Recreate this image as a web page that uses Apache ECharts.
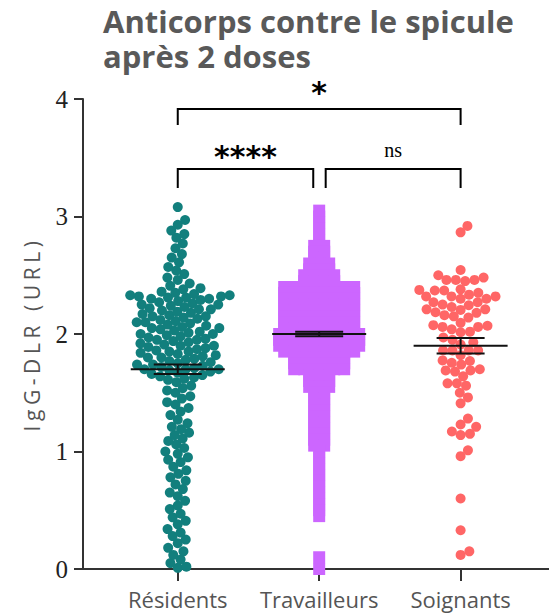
<!DOCTYPE html>
<html>
<head>
<meta charset="utf-8">
<script src="https://cdn.jsdelivr.net/npm/echarts@6/dist/echarts.min.js"></script>
<style>
  html, body { margin: 0; padding: 0; background: #fff; }
  #chart { width: 549px; height: 616px; }
</style>
</head>
<body>
<div id="chart"></div>
<script>
// groups and axis ticks
const categories = ['Résidents', 'Travailleurs', 'Soignants']
const yTicks = [0, 1, 2, 3, 4]
const yName = 'IgG-DLR (URL)'

// IgG-DLR values
const residents = [
  3.08,
  2.97, 2.93,
  2.88, 2.85, 2.82,
  2.77, 2.73,
  2.68, 2.65, 2.61,
  2.57, 2.54, 2.51,
  2.48, 2.46, 2.43, 2.41,
  2.39, 2.38, 2.36, 2.35, 2.34, 2.33, 2.33, 2.32, 2.32, 2.31, 2.31, 2.30, 2.30,
  2.29, 2.28, 2.27, 2.26, 2.25, 2.25, 2.24, 2.23, 2.22, 2.21, 2.21, 2.20,
  2.19, 2.18, 2.17, 2.16, 2.15, 2.15, 2.14, 2.13, 2.12, 2.11, 2.10, 2.10,
  2.09, 2.08, 2.07, 2.06, 2.05, 2.05, 2.04, 2.03, 2.02, 2.01, 2.00, 2.00,
  1.99, 1.98, 1.97, 1.96, 1.95, 1.95, 1.94, 1.93, 1.92, 1.91, 1.90, 1.90,
  1.89, 1.88, 1.87, 1.86, 1.85, 1.85, 1.84, 1.83, 1.82, 1.81, 1.80, 1.80,
  1.79, 1.78, 1.77, 1.76, 1.75, 1.74, 1.74, 1.73, 1.72, 1.71, 1.70, 1.70, 1.70,
  1.69, 1.68, 1.67, 1.66, 1.65, 1.64, 1.63, 1.62, 1.61,
  1.59, 1.56, 1.54, 1.52, 1.50,
  1.47, 1.45, 1.42, 1.40,
  1.37, 1.34, 1.31,
  1.27, 1.24, 1.21,
  1.19, 1.16, 1.14, 1.11,
  1.09, 1.06, 1.03, 1.00,
  0.98, 0.95, 0.93, 0.91,
  0.87, 0.84, 0.81,
  0.78, 0.75, 0.72,
  0.68, 0.65, 0.62,
  0.58, 0.54, 0.51,
  0.47, 0.44, 0.41,
  0.38, 0.34, 0.31,
  0.28, 0.25, 0.22,
  0.18, 0.15, 0.12,
  0.08, 0.05, 0.02, 0.01
]

// travailleurs: squares stacked in rows (level -> number of squares in the row)
const travLevels = [3.05, 3.00, 2.95, 2.90, 2.85, 2.80, 2.75, 2.70, 2.65, 2.60, 2.55, 2.50, 2.45,
  2.40, 2.35, 2.30, 2.25, 2.20, 2.15, 2.10, 2.05, 2.00, 1.95, 1.90, 1.85, 1.80, 1.75, 1.70,
  1.65, 1.60, 1.55, 1.50, 1.45, 1.40, 1.35, 1.30, 1.25, 1.20, 1.15, 1.10, 1.05,
  1.00, 0.95, 0.90, 0.85, 0.80, 0.75, 0.70, 0.65, 0.60, 0.55, 0.50, 0.45, 0.10, 0.00]
const travCounts = [1, 1, 1, 1, 1, 1, 2, 2, 2, 3, 3, 4, 4,
  8, 8, 8, 8, 8, 8, 8, 8, 9, 9, 9, 8, 6, 6, 6,
  3, 3, 3, 2, 2, 2, 2, 2, 2, 2, 2, 2, 2,
  1, 1, 1, 1, 1, 1, 1, 1, 1, 1, 1, 1, 1, 1]

const soignants = [
  2.92, 2.865, 2.545, 2.50, 2.46, 2.46, 2.45, 2.48, 2.46,
  2.38, 2.35, 2.375, 2.335, 2.32, 2.37, 2.37, 2.30, 2.30, 2.32, 2.32,
  2.205, 2.21, 2.27, 2.25, 2.23, 2.27, 2.245, 2.21, 2.185, 2.16, 2.14, 2.18, 2.15,
  2.06, 2.095, 2.075, 2.02, 2.07, 2.06, 2.04, 2.015, 1.97, 1.93, 1.91, 1.95,
  1.86, 1.86, 1.86, 1.86, 1.82, 1.74, 1.77, 1.755, 1.775, 1.70, 1.69, 1.69, 1.68, 1.64,
  1.58, 1.56, 1.58, 1.50, 1.46, 1.41, 1.28, 1.21, 1.23, 1.14, 1.15, 1.17,
  0.96, 1.01, 0.60, 0.33, 0.12, 0.15
]

// mean +/- SEM per group
const means = [1.70, 2.00, 1.90]
const sems = [0.04, 0.02, 0.066]

// significance brackets: [from, to, level, label]
const brackets = [
  [0, 2, 3.915, '*'],
  [0, 0.958, 3.405, '****'],
  [1.046, 2, 3.405, 'ns']
]

const colors = ['#127f7d', '#cc66ff', '#ff6666']

// layout of the plot area
const W = 549, H = 616
const GRID = { left: 83, right: 0, top: 99, bottom: 47 }
const X_MIN = -0.67, X_MAX = 2.625
const xScale = (W - GRID.left - GRID.right) / (X_MAX - X_MIN)
const yScale = (H - GRID.top - GRID.bottom) / 4

// beeswarm: put each point as near the centre as it fits
const swarm = (values, center, d) => {
  const pts = values.map(v => ({ v, y: v * yScale, x: 0 })).sort((a, b) => a.y - b.y)
  const placed = []
  pts.forEach(p => {
    const near = placed.filter(q => Math.abs(p.y - q.y) < d)
    const cands = [0]
    near.forEach(q => {
      const dx = Math.sqrt(d * d - (p.y - q.y) ** 2)
      cands.push(q.x + dx, q.x - dx)
    })
    cands.sort((a, b) => Math.abs(a) - Math.abs(b))
    for (const c of cands) {
      if (near.every(q => (c - q.x) ** 2 + (p.y - q.y) ** 2 >= d * d - 1e-6)) { p.x = c; break }
    }
    placed.push(p)
  })
  return pts.map(p => [center + p.x / xScale, p.v])
}

// rows of squares side by side
const rows = (levels, counts, center, step) => {
  const out = []
  levels.forEach((v, i) => {
    const n = counts[i]
    for (let k = 0; k < n; k++) out.push([center + (k - (n - 1) / 2) * step / xScale, v])
  })
  return out
}

const chart = echarts.init(document.getElementById('chart'), null, { renderer: 'svg' })

const option = {
  animation: false,
  title: {
    text: 'Anticorps contre le spicule\naprès 2 doses',
    left: 98,
    top: -2,
    textStyle: { fontFamily: 'Open Sans', fontWeight: 'bold', fontSize: 31, lineHeight: 35, color: '#595959' }
  },
  grid: GRID,
  xAxis: {
    type: 'value',
    min: X_MIN,
    max: X_MAX,
    splitLine: { show: false },
    axisLine: { lineStyle: { color: '#333', width: 2 } },
    axisTick: { customValues: [0, 1, 2], length: 12, lineStyle: { color: '#333', width: 2 } },
    axisLabel: {
      customValues: [0, 1, 2],
      formatter: v => categories[Math.round(v)],
      fontFamily: 'Open Sans', fontSize: 22, color: '#555', margin: 19
    }
  },
  yAxis: {
    type: 'value',
    min: 0,
    max: 4,
    interval: 1,
    name: yName,
    nameLocation: 'middle',
    nameGap: 41,
    nameTextStyle: { fontFamily: 'Open Sans', fontSize: 21, color: '#555' },
    splitLine: { show: false },
    axisLine: { show: true, onZero: false, lineStyle: { color: '#333', width: 2 } },
    axisTick: { show: true, length: 9, lineStyle: { color: '#333', width: 2 } },
    axisLabel: {
      formatter: v => yTicks.includes(v) ? String(v) : '',
      fontFamily: 'Liberation Serif', fontSize: 25, color: '#222', margin: 15
    }
  },
  series: [
    {
      type: 'scatter',
      symbol: 'circle',
      symbolSize: 10,
      itemStyle: { color: colors[0], opacity: 1 },
      data: swarm(residents, 0, 8.7)
    },
    {
      type: 'scatter',
      symbol: 'rect',
      symbolSize: 12,
      itemStyle: { color: colors[1], opacity: 1 },
      data: rows(travLevels, travCounts, 1, 10)
    },
    {
      type: 'scatter',
      symbol: 'circle',
      symbolSize: 10,
      itemStyle: { color: colors[2], opacity: 1 },
      data: swarm(soignants, 2, 9.4)
    },
    {
      // mean line and SEM whiskers
      type: 'custom',
      clip: false,
      silent: true,
      z: 5,
      data: means.map((m, i) => [i, m, sems[i]]),
      encode: { x: 0, y: 1 },
      renderItem: (params, api) => {
        const i = api.value(0), m = api.value(1), s = api.value(2)
        const c = api.coord([i, m])
        const top = api.coord([i, m + s])[1]
        const bot = api.coord([i, m - s])[1]
        const st = { stroke: '#111', lineWidth: 2 }
        return {
          type: 'group',
          children: [
            { type: 'line', shape: { x1: c[0] - 47, y1: c[1], x2: c[0] + 47, y2: c[1] }, style: st },
            { type: 'line', shape: { x1: c[0], y1: top, x2: c[0], y2: bot }, style: st },
            { type: 'line', shape: { x1: c[0] - 24, y1: top, x2: c[0] + 24, y2: top }, style: st },
            { type: 'line', shape: { x1: c[0] - 24, y1: bot, x2: c[0] + 24, y2: bot }, style: st }
          ]
        }
      }
    },
    {
      // significance brackets
      type: 'custom',
      clip: false,
      silent: true,
      z: 5,
      data: brackets.map(b => [b[0], b[1], b[2]]),
      encode: { x: [0, 1], y: 2 },
      renderItem: (params, api) => {
        const b = brackets[params.dataIndex]
        const p1 = api.coord([b[0], b[2]])
        const p2 = api.coord([b[1], b[2]])
        const leg = b[3] === '*' ? 16 : 19
        const isNs = b[3] === 'ns'
        return {
          type: 'group',
          children: [
            {
              type: 'polyline',
              shape: { points: [[p1[0], p1[1] + leg], [p1[0], p1[1]], [p2[0], p2[1]], [p2[0], p2[1] + leg]] },
              style: { stroke: '#000', lineWidth: 2, fill: null }
            },
            {
              type: 'text',
              x: (p1[0] + p2[0]) / 2,
              y: p1[1] - (isNs ? 19 : (b[3] === '*' ? 16 : 12)),
              style: {
                text: b[3],
                fill: '#000',
                align: 'center',
                verticalAlign: 'middle',
                font: isNs ? '20px "Liberation Serif"' : 'bold 30px "DejaVu Sans"'
              }
            }
          ]
        }
      }
    }
  ]
}

chart.setOption(option)

// the axis title in the picture is set wide, spread its letters to the same length
const spreadName = () => {
  document.querySelectorAll('#chart text').forEach(t => {
    if (t.textContent === yName && !t.dataset.spread) {
      const len = t.getComputedTextLength()
      const ls = Math.max(0, (195 - len) / yName.length)
      t.setAttribute('letter-spacing', ls.toFixed(2) + 'px')
      t.dataset.spread = '1'
    }
  })
}
chart.on('finished', spreadName)
setTimeout(spreadName, 50)
</script>
</body>
</html>
